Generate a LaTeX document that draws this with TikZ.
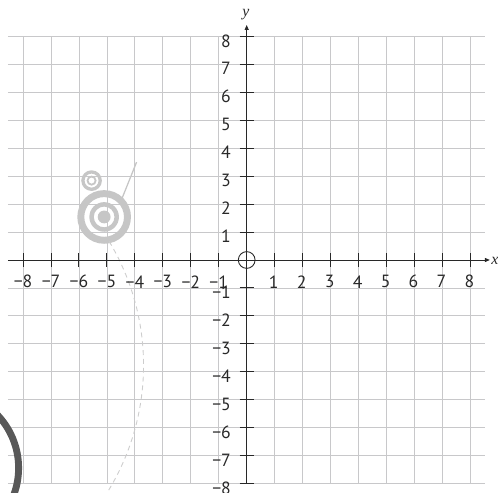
\documentclass[tikz,border=0pt]{standalone}
\usepackage{fontspec}
\setmainfont{PT Sans}
\newfontfamily\serifit{Liberation Serif}
\usetikzlibrary{arrows.meta}
\definecolor{gridc}{RGB}{200,200,202}
\definecolor{axisc}{RGB}{40,40,40}
\definecolor{targc}{RGB}{198,198,198}
\definecolor{dashc}{RGB}{205,205,205}
\definecolor{darkc}{RGB}{88,88,88}
\tikzset{
  gridline/.style={draw=gridc, line width=0.85pt},
  axisline/.style={draw=axisc, line width=1pt},
  axisarrow/.style={axisline, -{Triangle[length=5pt,width=4pt]}},
  tickline/.style={draw=axisc, line width=1pt},
  numlabel/.style={font=\fontsize{18}{18}\selectfont, text=axisc, inner sep=0pt},
  varlabel/.style={font=\fontsize{16}{16}\selectfont\serifit\itshape, text=axisc, inner sep=0pt},
  ringfill/.style={fill=targc, even odd rule},
}
\begin{document}
\begin{tikzpicture}
\path[use as bounding box] (-8.826,-8.336) rectangle (8.991,9.302);
\clip (-8.826,-8.336) rectangle (8.991,9.302);
% grid
\foreach \i in {-8,...,8} {
  \draw[gridline] (\i,-8) -- (\i,8);
  \draw[gridline] (-8.54,\i) -- (8.54,\i);
}
% decorations
\coordinate (bigc) at (-5.10,1.54);
\coordinate (smallc) at (-5.55,2.84);
\fill[ringfill] (bigc) circle[radius=0.96] (bigc) circle[radius=0.71];
\fill[ringfill] (bigc) circle[radius=0.53] (bigc) circle[radius=0.37];
\fill[targc] (bigc) circle[radius=0.23];
\fill[ringfill] (smallc) circle[radius=0.37] (smallc) circle[radius=0.25];
\fill[ringfill] (smallc) circle[radius=0.18] (smallc) circle[radius=0.11];
\coordinate (lineA) at (-4.47,2.18);
\coordinate (lineB) at (-3.94,3.50);
\draw[targc, line width=1.3pt] (lineA) -- (lineB);
\coordinate (arcc) at (-12.30,-3.77);
\draw[dashc, line width=0.9pt, dash pattern=on 5pt off 4pt] ([shift={(31:8.61)}]arcc) arc[start angle=31, end angle=-34, radius=8.61];
\coordinate (darkcen) at (-10.91,-7.44);
\draw[darkc, line width=7pt] (darkcen) circle[radius=2.75];
% axes
\coordinate (xl) at (-8.54,0);
\coordinate (xr) at (8.70,0);
\coordinate (yb) at (0,-8);
\coordinate (yt) at (0,8.41);
\draw[axisarrow] (xl) -- (xr);
\draw[axisarrow] (yb) -- (yt);
\node[varlabel, anchor=west] (xlab) at (8.75,-0.02) {x};
\node[varlabel] (ylab) at (-0.03,8.77) {y};
\node[draw=axisc, line width=0.9pt, circle, minimum size=0.6cm, inner sep=0pt] (origin) at (0,0) {};
% ticks and labels
\foreach \i in {1,...,8} {
  \draw[tickline] (\i,-0.25) -- (\i,0.25);
  \draw[tickline] (-\i,-0.25) -- (-\i,0.25);
  \draw[tickline] (-0.25,\i) -- (0.25,\i);
  \draw[tickline] (-0.25,-\i) -- (0.25,-\i);
  \node[numlabel] (xp\i) at (\i-0.03,-0.78) {\i};
  \node[numlabel] (xn\i) at (-\i,-0.78) {−\i};
  \node[numlabel, anchor=east] (yp\i) at (-0.56,\i-0.16) {\i};
  \node[numlabel, anchor=east] (yn\i) at (-0.56,-\i-0.16) {−\i};
}
\end{tikzpicture}
\end{document}
